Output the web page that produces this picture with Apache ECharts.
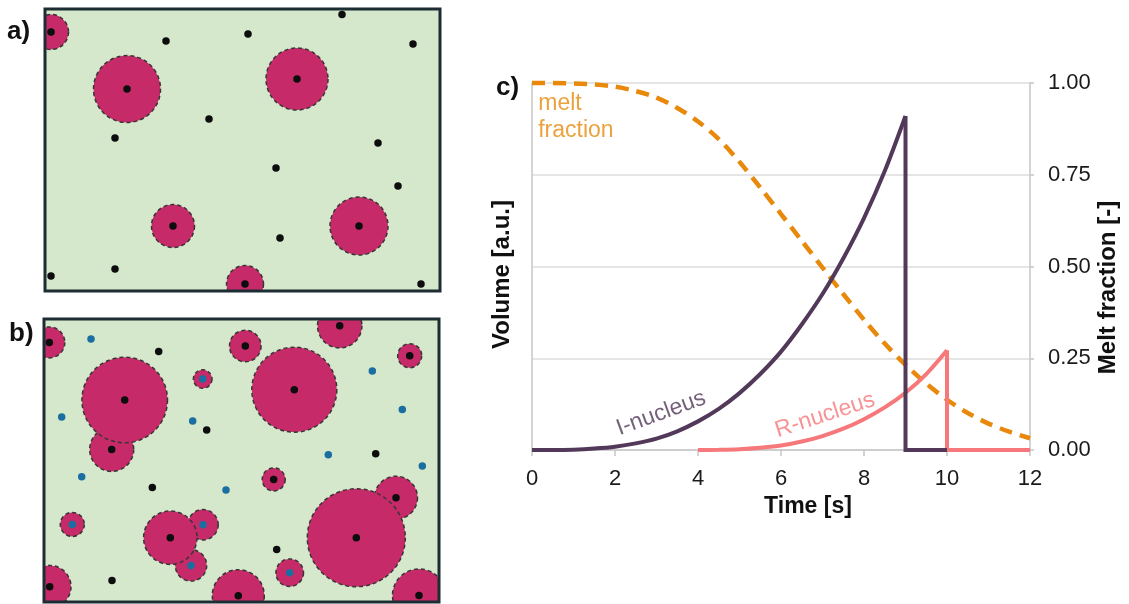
<!DOCTYPE html>
<html>
<head>
<meta charset="utf-8">
<title>Nucleation and melt fraction</title>
<script src="https://cdn.jsdelivr.net/npm/echarts@6/dist/echarts.min.js"></script>
<style>
  html, body { margin: 0; padding: 0; background: #ffffff; }
  #chart { width: 1129px; height: 604px; }
</style>
</head>
<body>
<div id="chart"></div>
<script>
// ---- Panel a: growing nuclei [x, y, radius] and untransformed sites [x, y] ----
const panelA_nuclei = [
  [6, 23, 17.5], [82, 80, 33.5], [252, 70, 31], [128, 217, 21.5], [314, 217, 29], [200, 275, 18.5]
];
const panelA_sites = [
  [297, 5.4], [203, 25], [121, 32], [368, 35], [164, 110], [70, 129], [333, 134],
  [231, 159], [353, 177], [235, 229], [70, 260], [6, 267], [376, 275]
];

// ---- Panel b: I-type nuclei (black centre), R-type nuclei (blue centre) ----
const panelB_iNuclei = [
  [5.3, 23.4, 15.5], [80.7, 81, 42.8], [67.7, 130.4, 22], [201.3, 27, 15.8], [295.7, 6.7, 22.2],
  [250.3, 70.7, 42.5], [365.7, 36.7, 12], [229.7, 160.4, 11.5], [126.3, 218.7, 26.7],
  [312.3, 218.7, 49], [352, 178.7, 21.5], [5.7, 267.7, 21.3], [194.3, 276.7, 26], [375, 276.4, 26.5]
];
const panelB_rNuclei = [
  [158.7, 60, 9.3], [28.3, 205.4, 12], [159, 205.7, 15.2], [147, 246.4, 15.7], [245.7, 253.7, 13.8]
];
const panelB_iSites = [
  [114.7, 32.4], [162.7, 111], [331.7, 134.7], [108.3, 168.4], [232.7, 230.4], [68, 261.4]
];
const panelB_rSites = [
  [47, 20], [17.7, 98], [148.7, 102], [328.3, 52], [358.3, 90.4], [284.3, 135.7],
  [378.3, 147], [37.7, 157.7], [182, 171]
];

// ---- Panel c: time [s] vs volume / melt fraction ----
const meltFraction = [
  [0, 1], [0.5, 1], [1, 0.999], [1.5, 0.996], [2, 0.99], [2.5, 0.978], [3, 0.96], [3.5, 0.932],
  [4, 0.895], [4.5, 0.847], [5, 0.785], [5.5, 0.715], [6, 0.643], [6.5, 0.57], [7, 0.497],
  [7.5, 0.425], [8, 0.355], [8.5, 0.29], [9, 0.232], [9.5, 0.181], [10, 0.137], [10.5, 0.101],
  [11, 0.072], [11.5, 0.05], [12, 0.032]
];
const iNucleusVolume = [
  [0, 0], [0.5, 0], [1, 0.001], [1.5, 0.004], [2, 0.009], [2.5, 0.018], [3, 0.031], [3.5, 0.051],
  [4, 0.078], [4.5, 0.112], [5, 0.155], [5.5, 0.207], [6, 0.268], [6.5, 0.342], [7, 0.425],
  [7.5, 0.522], [8, 0.632], [8.5, 0.76], [9, 0.91], [9, 0], [10, 0]
];
const rNucleusVolume = [
  [4, 0], [4.5, 0.0005], [5, 0.002], [5.5, 0.006], [6, 0.012], [6.5, 0.023], [7, 0.038],
  [7.5, 0.058], [8, 0.084], [8.5, 0.116], [9, 0.156], [9.5, 0.207], [10, 0.272], [10, 0], [12, 0]
];
const curveLabelTexts = ['I-nucleus', 'R-nucleus', 'melt\nfraction'];
const curveLabelAnchors = [[3.11, 0.1], [7.06, 0.095], [0.15, 0.907]];

const FONT = "'Liberation Sans', Arial, sans-serif";
const PINK = '#c62a68';
const PURPLE = '#523859';
const SALMON = '#f6787a';
const ORANGE = '#e8890c';
const BLUE = '#1b6fa0';

// split a curve at its vertical drop (repeated x) into growth part and drop part
function splitAtDrop(points) {
  for (let i = 1; i < points.length; i++) {
    if (points[i][0] === points[i - 1][0]) {
      return [points.slice(0, i), points.slice(i - 1)];
    }
  }
  return [points, []];
}
const [iGrowth, iDrop] = splitAtDrop(iNucleusVolume);
const [rGrowth, rDrop] = splitAtDrop(rNucleusVolume);

function renderNucleus(params, api) {
  const c = api.coord([api.value(0), api.value(1)]);
  const r = api.size([api.value(2), 0])[0];
  return {
    type: 'circle',
    shape: { cx: c[0], cy: c[1], r: r },
    style: { fill: PINK, stroke: '#363636', lineWidth: 1.5, lineDash: [4, 3] }
  };
}
function renderFrame(params) {
  const cs = params.coordSys;
  return {
    type: 'rect',
    shape: { x: cs.x, y: cs.y, width: cs.width, height: cs.height },
    style: { fill: 'none', stroke: '#1c2d33', lineWidth: 3 }
  };
}
const bySize = (a, b) => a[2] - b[2];

function nucleiSeries(idx, data) {
  return {
    type: 'custom', xAxisIndex: idx, yAxisIndex: idx, clip: true, silent: true, z: 2,
    renderItem: renderNucleus, data: data.slice().sort(bySize)
  };
}
function dotSeries(idx, data, color) {
  return {
    type: 'scatter', xAxisIndex: idx, yAxisIndex: idx, silent: true, z: 5,
    symbolSize: 7.5, itemStyle: { color: color, opacity: 1 },
    data: data.map(p => [p[0], p[1]])
  };
}
function frameSeries(idx) {
  return {
    type: 'custom', xAxisIndex: idx, yAxisIndex: idx, clip: false, silent: true, z: 10,
    renderItem: renderFrame, data: [[0, 0]]
  };
}

const chart = echarts.init(document.getElementById('chart'), null, { renderer: 'canvas' });

const tickText = { color: '#1a1a1a', fontSize: 22, fontFamily: FONT };
const axisGray = '#c6c6c6';

const option = {
  animation: false,
  backgroundColor: '#ffffff',
  textStyle: { fontFamily: FONT },
  title: [
    { text: 'a)', left: 7, top: 19, padding: 0, textStyle: { fontSize: 26, fontWeight: 'bold', color: '#111', fontFamily: FONT } },
    { text: 'b)', left: 9, top: 321, padding: 0, textStyle: { fontSize: 26, fontWeight: 'bold', color: '#111', fontFamily: FONT } },
    { text: 'c)', left: 496, top: 75, padding: 0, textStyle: { fontSize: 26, fontWeight: 'bold', color: '#111', fontFamily: FONT } }
  ],
  grid: [
    { left: 45, top: 9, width: 395, height: 282, show: true, backgroundColor: '#d5e8cb', borderWidth: 0 },
    { left: 44, top: 319, width: 395, height: 283, show: true, backgroundColor: '#d5e8cb', borderWidth: 0 },
    { left: 532, top: 83, width: 498, height: 367 }
  ],
  xAxis: [
    { gridIndex: 0, type: 'value', min: 0, max: 395, show: false },
    { gridIndex: 1, type: 'value', min: 0, max: 395, show: false },
    {
      gridIndex: 2, type: 'value', min: 0, max: 12, interval: 2,
      axisLine: { show: true, lineStyle: { color: axisGray, width: 1.5 } },
      axisTick: { show: true, length: 6, lineStyle: { color: axisGray, width: 1.5 } },
      axisLabel: Object.assign({ margin: 18 }, tickText),
      splitLine: { show: false },
      name: 'Time [s]', nameLocation: 'middle', nameGap: 44,
      nameTextStyle: { fontSize: 23, fontWeight: 'bold', color: '#111', fontFamily: FONT, padding: [0, 0, 0, 54] }
    }
  ],
  yAxis: [
    { gridIndex: 0, type: 'value', min: 0, max: 282, inverse: true, show: false },
    { gridIndex: 1, type: 'value', min: 0, max: 283, inverse: true, show: false },
    {
      gridIndex: 2, type: 'value', min: 0, max: 1, interval: 0.25, position: 'left',
      axisLine: { show: true, lineStyle: { color: axisGray, width: 1.5 } },
      axisTick: { show: false },
      axisLabel: { show: false },
      splitLine: { show: true, lineStyle: { color: '#dcdcdc', width: 1.5 } },
      name: 'Volume [a.u.]', nameLocation: 'middle', nameGap: 18,
      nameTextStyle: { fontSize: 24, fontWeight: 'bold', color: '#111', fontFamily: FONT, padding: [0, 16, 0, 0] }
    },
    {
      gridIndex: 2, type: 'value', min: 0, max: 1, interval: 0.25, position: 'right',
      axisLine: { show: true, lineStyle: { color: axisGray, width: 1.5 } },
      axisTick: { show: true, length: 4, lineStyle: { color: axisGray, width: 1.5 } },
      axisLabel: Object.assign({ margin: 18, formatter: v => v.toFixed(2) }, tickText),
      splitLine: { show: false },
      name: 'Melt fraction [-]', nameLocation: 'middle', nameGap: 66,
      nameTextStyle: { fontSize: 24, fontWeight: 'bold', color: '#111', fontFamily: FONT, padding: [0, 42, 0, 0] }
    }
  ],
  series: [
    // panel a
    nucleiSeries(0, panelA_nuclei),
    dotSeries(0, panelA_sites.concat(panelA_nuclei), '#0d0d0d'),
    frameSeries(0),
    // panel b
    nucleiSeries(1, panelB_iNuclei.concat(panelB_rNuclei)),
    dotSeries(1, panelB_iSites.concat(panelB_iNuclei), '#0d0d0d'),
    dotSeries(1, panelB_rSites.concat(panelB_rNuclei), BLUE),
    frameSeries(1),
    // panel c
    {
      name: 'melt fraction', type: 'line', xAxisIndex: 2, yAxisIndex: 3, z: 3,
      data: meltFraction, smooth: 0.3, showSymbol: false, clip: false,
      lineStyle: { color: ORANGE, width: 4.5, type: [13, 8], cap: 'butt' }
    },
    {
      name: 'R-nucleus', type: 'line', xAxisIndex: 2, yAxisIndex: 2, z: 4,
      data: rGrowth, smooth: 0.3, showSymbol: false, clip: false,
      lineStyle: { color: SALMON, width: 4 }
    },
    {
      name: 'R-nucleus drop', type: 'line', xAxisIndex: 2, yAxisIndex: 2, z: 4,
      data: rDrop, showSymbol: false, clip: false,
      lineStyle: { color: SALMON, width: 4, join: 'miter' }
    },
    {
      name: 'I-nucleus', type: 'line', xAxisIndex: 2, yAxisIndex: 2, z: 5,
      data: iGrowth, smooth: 0.3, showSymbol: false, clip: false,
      lineStyle: { color: PURPLE, width: 4 }
    },
    {
      name: 'I-nucleus drop', type: 'line', xAxisIndex: 2, yAxisIndex: 2, z: 5,
      data: iDrop, showSymbol: false, clip: false,
      lineStyle: { color: PURPLE, width: 4, join: 'miter' }
    },
    {
      name: 'curve labels', type: 'scatter', xAxisIndex: 2, yAxisIndex: 2, z: 6, silent: true,
      symbolSize: 1, itemStyle: { color: 'rgba(0,0,0,0)' },
      data: [
        { value: curveLabelAnchors[0], label: { formatter: curveLabelTexts[0], color: PURPLE, rotate: 20 } },
        { value: curveLabelAnchors[1], label: { formatter: curveLabelTexts[1], color: SALMON, rotate: 18 } },
        { value: curveLabelAnchors[2], label: { formatter: curveLabelTexts[2], color: ORANGE, rotate: 0, align: 'left', lineHeight: 27 } }
      ],
      label: { show: true, position: 'inside', fontSize: 23, fontFamily: FONT }
    }
  ]
};

chart.setOption(option);
</script>
</body>
</html>
